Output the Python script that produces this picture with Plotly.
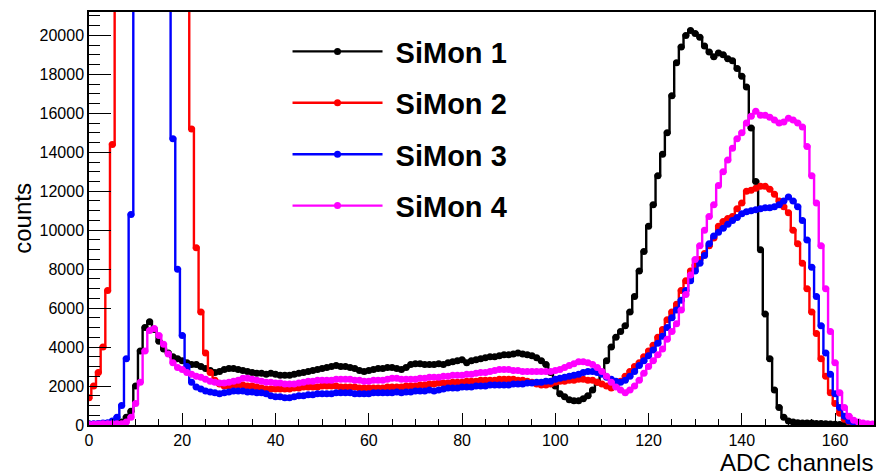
import plotly.graph_objects as go

channels = list(range(169))

simon1 = [50, 40, 50, 60, 70, 80, 100, 150, 400, 700,
          2000, 3800, 5000, 5300, 4900, 4300, 3900, 3700, 3500, 3400,
          3300, 3200, 3100, 3100, 3000, 2900, 2800, 2700, 2750, 2850,
          2900, 2900, 2850, 2800, 2750, 2700, 2650, 2650, 2600, 2650,
          2600, 2550, 2550, 2550, 2600, 2650, 2700, 2750, 2800, 2850,
          2900, 2950, 3000, 3050, 3000, 3000, 2950, 2900, 2800, 2750,
          2800, 2850, 2900, 2900, 2950, 2950, 2900, 2850, 2950, 3100,
          3150, 3150, 3100, 3100, 3100, 3150, 3100, 3200, 3250, 3300,
          3350, 3200, 3300, 3350, 3400, 3450, 3500, 3500, 3550, 3600,
          3600, 3650, 3700, 3650, 3600, 3550, 3450, 3300, 3100, 2700,
          2000, 1600, 1450, 1300, 1250, 1250, 1350, 1500, 1800, 2200,
          2700, 3300, 4000, 4500, 4800, 5100, 5800, 6600, 7900, 8900,
          10200, 11300, 12800, 13900, 15000, 16900, 18600, 19400, 20000, 20250,
          20100, 19900, 19450, 19150, 18900, 19100, 19000, 18800, 18700, 18300,
          17900, 17350, 15250, 12500, 9000, 5700, 3400, 1800, 900, 400,
          200, 150, 120, 100, 100, 100, 80, 80, 60, 50,
          40, 30, 20, 10, 0, 0, 0, 0, 0]

simon2 = [1400, 2000, 2700, 4000, 6900, 14400, 26000, 38000, 52000, 64000,
          72000, 76000, 78000, 77000, 74000, 70000, 64000, 57000, 48000, 38000,
          29000, 26000, 15200, 9100, 5800, 3700, 2700, 2300, 2100, 2000,
          2000, 2050, 2050, 2050, 2000, 2000, 1950, 1900, 1850, 1850,
          1850, 1850, 1850, 1850, 1900, 1900, 1950, 1950, 1950, 1950,
          2000, 2000, 2000, 2000, 1950, 1950, 1950, 1950, 1900, 1900,
          1900, 1900, 1900, 1900, 1950, 1950, 1950, 1950, 2000, 2000,
          2000, 2050, 2050, 2100, 2100, 2150, 2150, 2150, 2200, 2200,
          2200, 2250, 2250, 2250, 2300, 2300, 2300, 2300, 2350, 2350,
          2350, 2350, 2300, 2300, 2250, 2200, 2100, 2050, 2050, 2100,
          2200, 2250, 2250, 2300, 2300, 2350, 2350, 2300, 2300, 2200,
          2100, 2000, 1900, 2000, 2250, 2500, 2750, 3000, 3200, 3500,
          3800, 4100, 4500, 4900, 5400, 5800, 6200, 6900, 7400, 7900,
          8200, 8500, 8800, 9200, 9600, 10200, 10450, 10600, 10700, 11100,
          11400, 12000, 12050, 12150, 12250, 12250, 12100, 11850, 11500, 11200,
          10900, 10000, 9300, 8300, 7000, 5800, 4700, 3400, 2500, 1650,
          1100, 600, 300, 150, 80, 40, 20, 10, 5]

simon3 = [50, 60, 80, 100, 120, 200, 400, 1000, 3400, 10800,
          30000, 48000, 60000, 66000, 64000, 56000, 42000, 26000, 14700, 8000,
          4600, 3000, 2200, 1950, 1850, 1750, 1700, 1650, 1600, 1650,
          1700, 1750, 1750, 1750, 1700, 1700, 1650, 1650, 1600, 1500,
          1450, 1450, 1400, 1400, 1450, 1500, 1500, 1550, 1550, 1600,
          1600, 1600, 1600, 1650, 1650, 1650, 1650, 1600, 1600, 1600,
          1600, 1650, 1650, 1650, 1650, 1650, 1700, 1650, 1700, 1700,
          1750, 1750, 1750, 1800, 1750, 1800, 1850, 1900, 1900, 1900,
          1950, 1950, 1950, 2000, 2000, 2000, 2050, 2050, 2050, 2050,
          2050, 2100, 2100, 2100, 2150, 2150, 2200, 2200, 2250, 2250,
          2350, 2400, 2450, 2500, 2550, 2600, 2700, 2750, 2750, 2700,
          2600, 2450, 2350, 2250, 2200, 2300, 2500, 2750, 3050, 3300,
          3550, 3850, 4200, 4550, 5000, 5500, 5900, 6400, 6900, 7400,
          7900, 8300, 8700, 9300, 9700, 9900, 10100, 10300, 10500, 10650,
          10850, 10950, 11000, 11050, 11100, 11150, 11150, 11200, 11300, 11500,
          11700, 11500, 11200, 10500, 9500, 8100, 6600, 5100, 3700, 2600,
          1600, 900, 450, 200, 100, 50, 30, 15, 10]

simon4 = [30, 40, 50, 60, 60, 70, 60, 60, 150, 400,
          1100, 2200, 3800, 4850, 4950, 4600, 4150, 3650, 3200, 2950,
          2850, 2700, 2600, 2500, 2450, 2350, 2250, 2200, 2150, 2150,
          2200, 2250, 2300, 2400, 2400, 2350, 2300, 2250, 2200, 2200,
          2150, 2150, 2100, 2100, 2100, 2150, 2200, 2250, 2250, 2300,
          2300, 2300, 2300, 2350, 2350, 2350, 2350, 2300, 2300, 2250,
          2250, 2300, 2300, 2300, 2350, 2400, 2400, 2350, 2350, 2350,
          2350, 2400, 2400, 2450, 2450, 2450, 2500, 2500, 2550, 2550,
          2550, 2600, 2600, 2650, 2700, 2700, 2750, 2800, 2850, 2850,
          2850, 2800, 2800, 2750, 2750, 2750, 2750, 2750, 2750, 2750,
          2800, 2850, 2950, 3050, 3150, 3250, 3250, 3200, 3100, 2950,
          2750, 2500, 2200, 1950, 1800, 1650, 1800, 2000, 2300, 2650,
          3000, 3300, 3600, 3900, 4400, 4800, 5200, 5900, 6700, 7700,
          8500, 9200, 10000, 10700, 11300, 12300, 13000, 13600, 14200, 14700,
          15000, 15500, 15850, 16100, 15900, 15900, 15800, 15650, 15500, 15550,
          15750, 15650, 15500, 15300, 14300, 12800, 11400, 9200, 7000, 4800,
          3200, 1650, 900, 450, 250, 150, 100, 70, 50]

names = ["SiMon 1", "SiMon 2", "SiMon 3", "SiMon 4"]
colors = ["#000000", "#ff0000", "#0000ff", "#ff00ff"]
series = [simon1, simon2, simon3, simon4]

FONT = "Liberation Sans, Arial, Helvetica, sans-serif"

fig = go.Figure()
for i, (nm, col, ys) in enumerate(zip(names, colors, series)):
    fig.add_trace(go.Scatter(
        x=channels, y=ys, name="\u00a0" + nm, mode="lines+markers",
        line=dict(color=col, width=2.4, shape="hvh"),
        marker=dict(color=col, size=7),
        legendgroup=f"g{i}",
    ))

fig.update_layout(
    width=879, height=476,
    margin=dict(l=89, r=3, t=12, b=51),
    paper_bgcolor="white", plot_bgcolor="white",
    font=dict(family=FONT, size=16, color="black"),
    showlegend=True,
    legend=dict(
        x=0.2529, y=0.966, xanchor="left", yanchor="top",
        bgcolor="rgba(255,255,255,0)", borderwidth=0,
        font=dict(family=FONT, size=29, color="black", weight="bold"),
        itemwidth=90, tracegroupgap=10.7, traceorder="grouped",
    ),
    xaxis=dict(
        range=[0, 168.35], showgrid=False, zeroline=False,
        showline=True, linecolor="black", linewidth=1.5, mirror=True,
        ticks="inside", ticklen=12, tickwidth=1.2, tickcolor="black",
        tick0=0, dtick=20,
        minor=dict(ticks="inside", ticklen=6, dtick=5, tickcolor="black", tickwidth=1),
        tickfont=dict(size=16),
    ),
    yaxis=dict(
        range=[0, 21200], showgrid=False, zeroline=False,
        showline=True, linecolor="black", linewidth=1.5, mirror=True,
        ticks="inside", ticklen=22, tickwidth=1.2, tickcolor="black",
        tick0=0, dtick=2000, tickformat="d",
        minor=dict(ticks="inside", ticklen=11, dtick=500, tickcolor="black", tickwidth=1),
        tickfont=dict(size=16),
    ),
    annotations=[
        dict(text="ADC channels", xref="paper", yref="paper", x=1.0, y=-0.092,
             xanchor="right", yanchor="middle", showarrow=False, borderpad=0,
             font=dict(family=FONT, size=24, color="black")),
        dict(text="counts", xref="paper", yref="paper", x=-0.085, y=0.5,
             xanchor="center", yanchor="middle", textangle=-90, showarrow=False,
             font=dict(family=FONT, size=24, color="black")),
    ],
)

fig.write_html("out.html")
